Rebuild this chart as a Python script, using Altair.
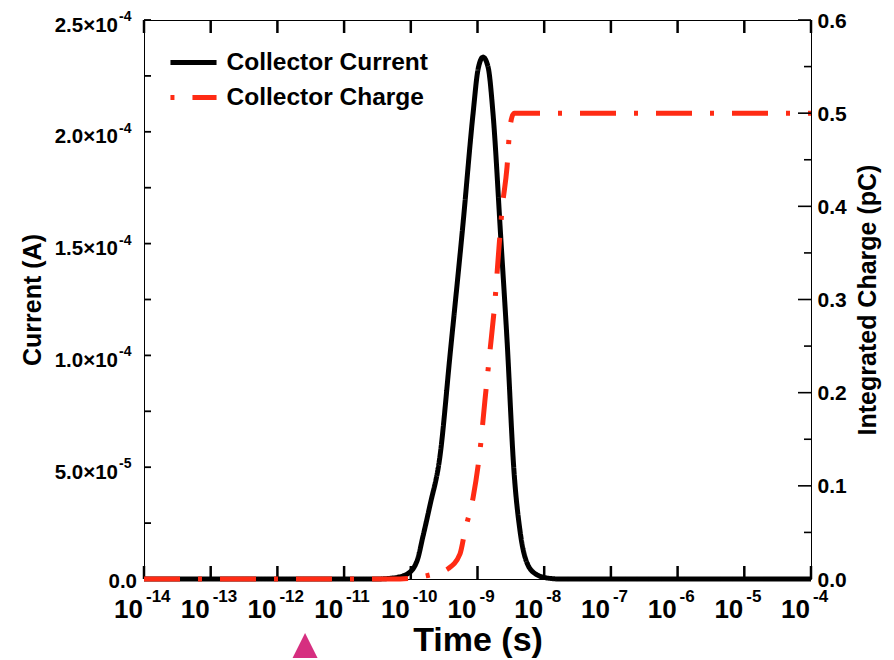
import altair as alt
import pandas as pd

# ---------------- data ----------------
SERIES = ["Collector Current", "Collector Charge"]

current_time = [1e-14, 3.0e-11, 5.4e-11, 8.8e-11, 1.24e-10, 1.52e-10, 1.94e-10, 2.74e-10,
                3.87e-10, 6.07e-10, 8.57e-10, 1.02e-9, 1.21e-9, 1.44e-9, 1.71e-9, 2.25e-9,
                2.77e-9, 3.52e-9, 4.34e-9, 5.52e-9, 7.5e-9, 1.14e-8, 1.73e-8, 1e-4]
current_amp = [0, 0, 4.5e-7, 2.2e-6, 8.1e-6, 1.9e-5, 3.3e-5, 5.5e-5,
               1.0e-4, 1.59e-4, 2.08e-4, 2.28e-4, 2.334e-4, 2.29e-4, 2.08e-4, 1.51e-4,
               1.07e-4, 4.84e-5, 2.15e-5, 7.2e-6, 2.2e-6, 4e-7, 0, 0]

charge_time = [1e-14, 6.9e-11, 1.08e-10, 2.08e-10, 3.61e-10, 5.47e-10, 6.5e-10, 8.57e-10,
               1.09e-9, 1.29e-9, 1.54e-9, 1.83e-9, 2.03e-9, 2.33e-9, 2.77e-9, 3.07e-9,
               3.52e-9, 1e-4]
charge_pc = [0, 0, 0.001, 0.005, 0.011, 0.027, 0.052, 0.087,
             0.138, 0.191, 0.245, 0.299, 0.342, 0.396, 0.442, 0.485,
             0.5, 0.5]

x_ticks = [1e-14, 1e-13, 1e-12, 1e-11, 1e-10, 1e-9, 1e-8, 1e-7, 1e-6, 1e-5, 1e-4]
x_base = ["10"] * 11
x_exp = ["-14", "-13", "-12", "-11", "-10", "-9", "-8", "-7", "-6", "-5", "-4"]

left_ticks = [0, 2.5e-5, 5e-5, 7.5e-5, 1e-4, 1.25e-4, 1.5e-4, 1.75e-4, 2e-4, 2.25e-4, 2.5e-4]
left_label_vals = [5e-5, 1e-4, 1.5e-4, 2e-4, 2.5e-4]
left_label_base = ["5.0×10", "1.0×10", "1.5×10", "2.0×10", "2.5×10"]
left_label_exp = ["-5", "-4", "-4", "-4", "-4"]
left_zero_val = [0]
left_zero_label = ["0.0"]

right_major = [0, 0.1, 0.2, 0.3, 0.4, 0.5, 0.6]
right_minor = [0.05, 0.15, 0.25, 0.35, 0.45, 0.55]
right_labels = ["0.0", "0.1", "0.2", "0.3", "0.4", "0.5", "0.6"]

marker_time = [2.6e-12]

# ---------------- styling ----------------
FONT = "Liberation Sans"
RED = "#ff2b14"
W, H = 667, 559

xscale = alt.Scale(type="log", domain=[1e-14, 1e-4], nice=False)
ylscale = alt.Scale(domain=[0, 2.5e-4], nice=False, zero=False)
yrscale = alt.Scale(domain=[0, 0.6], nice=False, zero=False)

X_AXIS = alt.Axis(title="Time (s)", labels=False, ticks=False, domain=False, grid=False,
                  titleFont=FONT, titleFontSize=34, titleFontWeight="bold",
                  titleColor="black", titlePadding=44)
YL_AXIS = alt.Axis(title="Current (A)", labels=False, ticks=False, domain=False, grid=False,
                   titleFont=FONT, titleFontSize=25, titleFontWeight="bold",
                   titleColor="black", titlePadding=99)
YR_AXIS = alt.Axis(title="Integrated Charge (pC)", orient="right", labels=False, ticks=False,
                   domain=False, grid=False, titleFont=FONT, titleFontSize=25,
                   titleFontWeight="bold", titleColor="black", titlePadding=44,
                   titleAngle=270, titleBaseline="top")


def X(f):
    return alt.X(f"{f}:Q", scale=xscale, axis=X_AXIS)


def YL(f):
    return alt.Y(f"{f}:Q", scale=ylscale, axis=YL_AXIS)


def YR(f):
    return alt.Y(f"{f}:Q", scale=yrscale, axis=YR_AXIS)


LEG = alt.Legend(title=None, orient="none", legendX=29, legendY=22,
                 symbolType="M-1.28,0H1.28", symbolSize=1296, symbolStrokeWidth=5,
                 symbolDashOffset=54, symbolFillColor="transparent",
                 labelFont=FONT, labelFontSize=24.5, labelFontWeight="bold",
                 labelColor="black", labelOffset=12.5, rowPadding=3, padding=0,
                 labelLimit=500)
COLOR_SCALE = alt.Scale(domain=SERIES, range=["black", RED])
DASH_SCALE = alt.Scale(domain=SERIES, range=[[1, 0], [36, 18, 4, 18]])

# ---------------- tables ----------------
df_cur = pd.DataFrame({"t": current_time, "v": current_amp, "series": SERIES[0]})
df_chg = pd.DataFrame({"t": charge_time, "v": charge_pc, "series": SERIES[1]})
df_xt = pd.DataFrame({"t": x_ticks, "base": x_base, "exp": x_exp})
df_lt = pd.DataFrame({"v": left_ticks})
df_ll = pd.DataFrame({"v": left_label_vals, "base": left_label_base, "exp": left_label_exp})
df_l0 = pd.DataFrame({"v": left_zero_val, "base": left_zero_label})
df_rM = pd.DataFrame({"v": right_major, "lab": right_labels})
df_rm = pd.DataFrame({"v": right_minor})
df_mk = pd.DataFrame({"t": marker_time})

# ---------------- left group (current) ----------------
cur_line = alt.Chart(df_cur).mark_line(strokeWidth=5, strokeJoin="round", interpolate="monotone").encode(
    x=X("t"), y=YL("v"),
    color=alt.Color("series:N", scale=COLOR_SCALE, legend=LEG),
    strokeDash=alt.StrokeDash("series:N", scale=DASH_SCALE, legend=LEG),
)
xt_bottom = alt.Chart(df_xt).mark_rule(strokeWidth=2.5, color="black").encode(
    x=X("t"), y=alt.value(H), y2=alt.value(H - 13))
xt_top = alt.Chart(df_xt).mark_rule(strokeWidth=2.5, color="black").encode(
    x=X("t"), y=alt.value(0), y2=alt.value(13))
xl_base = alt.Chart(df_xt).mark_text(align="right", baseline="alphabetic", font=FONT, fontSize=26,
                                     fontWeight="bold", color="black", dx=-1).encode(
    x=X("t"), y=alt.value(H + 38.5), text="base:N")
xl_exp = alt.Chart(df_xt).mark_text(align="left", baseline="alphabetic", font=FONT, fontSize=17,
                                    fontWeight="bold", color="black", dx=2).encode(
    x=X("t"), y=alt.value(H + 22.5), text="exp:N")
lt = alt.Chart(df_lt).mark_rule(strokeWidth=1.8, color="black").encode(
    y=YL("v"), x=alt.value(0), x2=alt.value(7))
ll_base = alt.Chart(df_ll).mark_text(align="right", baseline="alphabetic", font=FONT, fontSize=20.5,
                                     fontWeight="bold", color="black", dy=11.5).encode(
    y=YL("v"), x=alt.value(-26), text="base:N")
ll_exp = alt.Chart(df_ll).mark_text(align="left", baseline="alphabetic", font=FONT, fontSize=14,
                                    fontWeight="bold", color="black", dy=1).encode(
    y=YL("v"), x=alt.value(-25), text="exp:N")
ll_zero = alt.Chart(df_l0).mark_text(align="right", baseline="alphabetic", font=FONT, fontSize=20.5,
                                     fontWeight="bold", color="black", dy=9).encode(
    y=YL("v"), x=alt.value(-7), text="base:N")
marker = alt.Chart(df_mk).mark_point(shape="M0,-1L1,1L-1,1Z", filled=True, size=625,
                                     color="#d62f80", opacity=1, strokeWidth=0).encode(
    x=X("t"), y=alt.value(H + 66.5))

left = alt.layer(cur_line, xt_bottom, xt_top, xl_base, xl_exp, lt, ll_base, ll_exp, ll_zero, marker)

# ---------------- right group (charge) ----------------
chg_line = alt.Chart(df_chg).mark_line(strokeWidth=5, interpolate="monotone").encode(
    x=X("t"), y=YR("v"),
    color=alt.Color("series:N", scale=COLOR_SCALE, legend=LEG),
    strokeDash=alt.StrokeDash("series:N", scale=DASH_SCALE, legend=LEG),
)
rt_major = alt.Chart(df_rM).mark_rule(strokeWidth=1.6, color="black").encode(
    y=YR("v"), x=alt.value(W), x2=alt.value(W - 13))
rt_minor = alt.Chart(df_rm).mark_rule(strokeWidth=1.6, color="black").encode(
    y=YR("v"), x=alt.value(W), x2=alt.value(W - 7))
rl = alt.Chart(df_rM).mark_text(align="left", baseline="alphabetic", font=FONT, fontSize=21,
                                fontWeight="bold", color="black", dy=7.5).encode(
    y=YR("v"), x=alt.value(W + 6.5), text="lab:N")

right = alt.layer(chg_line, rt_major, rt_minor, rl)

chart = alt.layer(left, right).resolve_scale(y="independent").properties(
    width=W, height=H,
    padding={"left": 136, "top": 12, "right": 74, "bottom": 80},
    autosize=alt.AutoSizeParams(type="none"),
    background="white",
).configure_view(stroke="black", strokeWidth=1)

chart.save("out.html", embed_options={"renderer": "svg", "actions": False})
